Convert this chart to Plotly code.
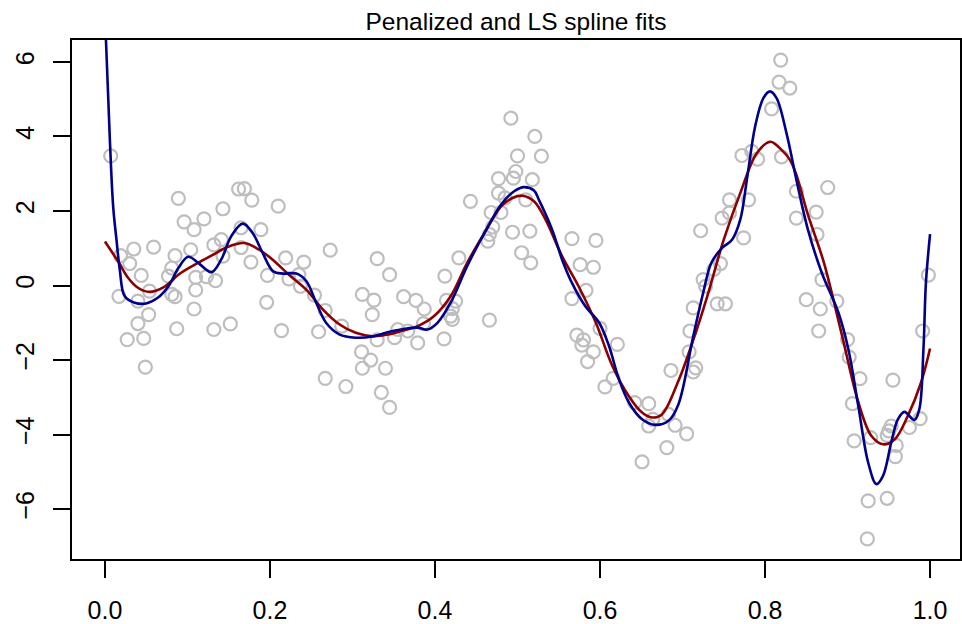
import plotly.graph_objects as go

# ---- observed data (gray open circles) ----
pts_x = [0.007, 0.017, 0.019, 0.027, 0.030, 0.035, 0.040, 0.040, 0.044, 0.047,
         0.049, 0.053, 0.054, 0.059, 0.077, 0.081, 0.081, 0.085, 0.085, 0.087,
         0.089, 0.096, 0.104, 0.108, 0.108, 0.110, 0.110, 0.120, 0.123, 0.132,
         0.132, 0.134, 0.141, 0.143, 0.143, 0.152, 0.162, 0.165, 0.165, 0.169,
         0.177, 0.178, 0.189, 0.196, 0.197, 0.210, 0.214, 0.219, 0.223, 0.235,
         0.237, 0.241, 0.254, 0.259, 0.267, 0.267, 0.273, 0.287, 0.292, 0.311,
         0.312, 0.312, 0.322, 0.324, 0.326, 0.330, 0.330, 0.335, 0.340, 0.345,
         0.345, 0.351, 0.355, 0.362, 0.367, 0.377, 0.379, 0.386, 0.387, 0.411,
         0.412, 0.414, 0.419, 0.421, 0.421, 0.425, 0.429, 0.443, 0.464, 0.466,
         0.466, 0.468, 0.470, 0.477, 0.477, 0.480, 0.485, 0.492, 0.494, 0.495,
         0.498, 0.500, 0.505, 0.510, 0.515, 0.516, 0.521, 0.518, 0.529, 0.566,
         0.566, 0.572, 0.576, 0.578, 0.580, 0.583, 0.585, 0.592, 0.592, 0.595,
         0.600, 0.606, 0.616, 0.621, 0.642, 0.651, 0.659, 0.659, 0.664, 0.681,
         0.683, 0.686, 0.691, 0.705, 0.708, 0.709, 0.713, 0.713, 0.716, 0.722,
         0.725, 0.728, 0.738, 0.742, 0.746, 0.748, 0.752, 0.757, 0.757, 0.772,
         0.774, 0.780, 0.784, 0.791, 0.808, 0.817, 0.819, 0.820, 0.830, 0.838,
         0.838, 0.850, 0.862, 0.863, 0.865, 0.867, 0.869, 0.876, 0.887, 0.900,
         0.902, 0.906, 0.908, 0.915, 0.924, 0.925, 0.928, 0.948, 0.948, 0.950,
         0.953, 0.955, 0.958, 0.959, 0.975, 0.988, 0.991, 0.998]
pts_y = [3.48, -0.29, 0.80, -1.45, 0.59, 0.98, -0.42, -1.02, 0.27, -1.42,
         -2.19, -0.78, -0.15, 1.03, 0.25, 0.47, -0.24, 0.80, -0.30, -1.16,
         2.34, 1.71, 0.96, 1.50, -0.63, 0.22, -0.12, 1.79, 0.24, 1.09,
         -1.18, 0.13, 1.23, 2.06, 0.79, -1.03, 2.59, 1.55, 1.02, 2.60,
         0.63, 2.29, 1.50, -0.45, 0.27, 2.13, -1.21, 0.74, 0.18, 0.29,
         -0.02, 0.63, -0.26, -1.24, -0.67, -2.49, 0.95, -1.09, -2.71, -1.78,
         -0.24, -2.22, -2.00, -0.78, -0.39, 0.72, -1.46, -2.87, -2.22, 0.29,
         -3.27, -1.40, -1.18, -0.30, -1.22, -0.40, -1.54, -1.02, -0.63, -1.43,
         0.25, -0.40, -0.82, -0.62, -0.91, -0.42, 0.74, 2.26, 1.19, 1.37,
         -0.93, 1.96, 1.57, 2.87, 2.48, 1.96, 2.35, 4.49, 1.43, 2.88,
         3.06, 3.48, 0.88, 2.30, 1.46, 0.61, 4.00, 2.84, 3.47, 1.26,
         -0.35, -1.33, 0.56, -1.60, -1.46, -0.13, -2.04, 0.49, -1.78, 1.21,
         -1.15, -2.72, -2.49, -1.58, -3.14, -4.73, -3.17, -3.77, -3.59, -4.35,
         -3.46, -2.28, -3.75, -3.98, -1.78, -1.22, -0.60, -2.32, -2.21, 1.47,
         0.16, -0.02, 0.43, -0.49, 0.59, 1.81, -0.49, 2.30, 1.95, 3.49,
         1.28, 2.30, 3.60, 3.39, 4.74, 5.46, 6.05, 3.45, 5.30, 2.53,
         1.81, -0.38, 1.97, 1.37, -1.22, -0.63, 0.16, 2.63, -0.42, -1.45,
         -1.92, -3.17, -4.17, -2.50, -6.80, -5.78, -4.08, -5.71, -4.02, -3.90,
         -3.77, -2.54, -4.59, -4.29, -3.81, -3.57, -1.22, 0.28]

# ---- penalized spline fit (dark red) ----
pen_x = [0.000, 0.017, 0.028, 0.040, 0.054, 0.073, 0.089, 0.109, 0.129, 0.149,
         0.169, 0.187, 0.203, 0.223, 0.244, 0.264, 0.284, 0.304, 0.324, 0.345,
         0.359, 0.379, 0.399, 0.419, 0.439, 0.460, 0.480, 0.494, 0.506, 0.520,
         0.534, 0.554, 0.574, 0.595, 0.615, 0.635, 0.651, 0.663, 0.675, 0.695,
         0.714, 0.730, 0.750, 0.770, 0.790, 0.8065, 0.820, 0.830, 0.838, 0.852,
         0.871, 0.893, 0.913, 0.929, 0.943, 0.957, 0.973, 0.989, 1.000]
pen_y = [1.18, 0.61, 0.21, -0.06, -0.17, -0.02, 0.29, 0.56, 0.80, 1.04,
         1.14, 0.96, 0.70, 0.29, -0.11, -0.64, -1.04, -1.27, -1.36, -1.31,
         -1.22, -1.09, -0.82, -0.29, 0.61, 1.41, 2.12, 2.35, 2.41, 2.26,
         1.77, 0.79, -0.02, -1.00, -2.16, -2.97, -3.41, -3.54, -3.46, -2.56,
         -1.40, -0.29, 1.23, 2.48, 3.55, 3.86, 3.64, 3.38, 2.97, 1.90,
         0.64, -1.31, -3.13, -4.04, -4.26, -4.13, -3.50, -2.61, -1.69]

# ---- least-squares spline fit (dark blue) ----
ls_x = [0.000, 0.006, 0.010, 0.014, 0.018, 0.024, 0.036, 0.050, 0.064, 0.077,
        0.089, 0.101, 0.113, 0.129, 0.141, 0.153, 0.167, 0.179, 0.191, 0.204,
        0.216, 0.232, 0.244, 0.256, 0.268, 0.284, 0.304, 0.324, 0.345, 0.359,
        0.379, 0.391, 0.403, 0.419, 0.439, 0.460, 0.480, 0.496, 0.508, 0.520,
        0.526, 0.542, 0.554, 0.566, 0.582, 0.599, 0.611, 0.623, 0.635, 0.651,
        0.667, 0.683, 0.695, 0.713, 0.725, 0.735, 0.748, 0.760, 0.770, 0.778,
        0.788, 0.798, 0.806, 0.814, 0.826, 0.838, 0.852, 0.869, 0.889, 0.901,
        0.913, 0.925, 0.935, 0.943, 0.953, 0.961, 0.969, 0.981, 0.987, 0.992,
        0.995, 1.000]
ls_y = [7.30, 3.91, 2.12, 1.23, 0.43, -0.29, -0.46, -0.48, -0.33, -0.02,
        0.47, 0.77, 0.61, 0.36, 0.70, 1.32, 1.66, 1.41, 0.88, 0.38,
        0.32, 0.32, 0.12, -0.46, -1.00, -1.31, -1.40, -1.37, -1.24, -1.18,
        -1.13, -1.18, -1.00, -0.46, 0.52, 1.41, 2.17, 2.53, 2.64, 2.55,
        2.30, 1.50, 0.70, 0.07, -0.55, -1.00, -1.63, -2.52, -3.14, -3.59,
        -3.74, -3.63, -3.19, -1.36, -0.20, 0.61, 1.01, 1.23, 1.77, 2.84,
        4.27, 5.03, 5.21, 5.03, 4.09, 2.84, 1.50, 0.33, -0.73, -1.71,
        -3.23, -4.75, -5.33, -5.11, -4.21, -3.59, -3.39, -3.61, -3.32, -1.71,
        0.07, 1.38]

x_ticks = [0.0, 0.2, 0.4, 0.6, 0.8, 1.0]
x_tick_text = ["0.0", "0.2", "0.4", "0.6", "0.8", "1.0"]
y_ticks = [-6, -4, -2, 0, 2, 4, 6]
title_text = "Penalized and LS spline fits"

FONT = "Liberation Sans, Arial, Helvetica, sans-serif"

fig = go.Figure()
fig.add_trace(go.Scatter(
    x=pts_x, y=pts_y, mode="markers",
    marker=dict(symbol="circle-open", size=13, color="#BEBEBE",
                line=dict(width=2.2, color="#BEBEBE")),
    showlegend=False, hoverinfo="skip"))
fig.add_trace(go.Scatter(
    x=pen_x, y=pen_y, mode="lines",
    line=dict(color="#8B0000", width=2.6, shape="spline", smoothing=1),
    showlegend=False))
fig.add_trace(go.Scatter(
    x=ls_x, y=ls_y, mode="lines",
    line=dict(color="#00008B", width=2.6, shape="spline", smoothing=1),
    showlegend=False))

fig.update_layout(
    width=962, height=624,
    margin=dict(l=72, r=0, t=40, b=64),
    paper_bgcolor="white", plot_bgcolor="white",
    font=dict(family=FONT, color="black", size=25),
    title=dict(text=title_text, x=0.5, xref="paper", xanchor="center",
               y=1 - 21 / 624, yref="container", yanchor="middle",
               font=dict(family=FONT, size=24.5, color="black")),
)
fig.update_xaxes(
    range=[-0.0399, 1.0363], tickvals=x_ticks, ticktext=x_tick_text,
    showgrid=False, zeroline=False, showline=True, mirror=True,
    linecolor="black", linewidth=1.8, ticks="outside", ticklen=17,
    tickwidth=1.8, tickcolor="black", ticklabelstandoff=11,
    tickfont=dict(family=FONT, size=25, color="black"))
fig.update_yaxes(
    range=[-7.339, 6.589], tickvals=y_ticks,
    showgrid=False, zeroline=False, showline=True, mirror=True,
    linecolor="black", linewidth=1.8, ticks="outside", ticklen=17,
    tickwidth=1.8, tickcolor="black", tickangle=-90, ticklabelstandoff=9,
    tickfont=dict(family=FONT, size=25, color="black"))

fig.write_html("out.html")
